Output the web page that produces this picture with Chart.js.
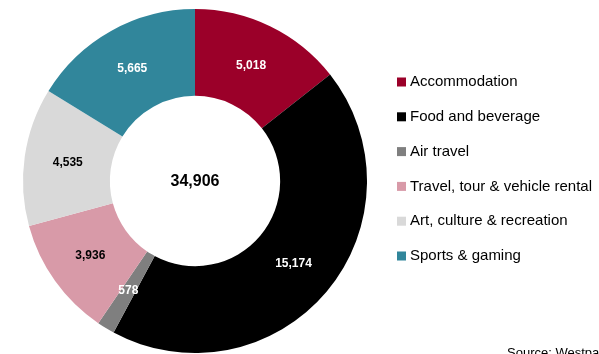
<!DOCTYPE html>
<html>
<head>
<meta charset="utf-8">
<script src="https://cdn.jsdelivr.net/npm/chart.js@4"></script>
<style>
  html, body { margin: 0; padding: 0; background: #fff; }
  #wrap { width: 599px; height: 354px; position: relative; }
</style>
</head>
<body>
<div id="wrap"><canvas id="spendChart"></canvas></div>
<script>
const categories = ['Accommodation', 'Food and beverage', 'Air travel', 'Travel, tour & vehicle rental', 'Art, culture & recreation', 'Sports & gaming'];
const spend = [5018, 15174, 578, 3936, 4535, 5665];
const sliceColors = ['#9b0029', '#000000', '#7f7f7f', '#d89aa8', '#d9d9d9', '#31869b'];
const labelColors = ['#ffffff', '#ffffff', '#ffffff', '#000000', '#000000', '#ffffff'];
const sourceNote = 'Source: Westpac';

const fmt = v => v.toLocaleString('en-US');
const FONT = 'Arial, "Liberation Sans", sans-serif';

// values on each slice + total in the hole
const sliceLabels = {
    id: 'sliceLabels',
    afterDatasetsDraw(chart) {
        const c = chart.ctx;
        const meta = chart.getDatasetMeta(0);
        c.save();
        c.textAlign = 'center';
        c.textBaseline = 'middle';
        c.font = 'bold 12px ' + FONT;
        meta.data.forEach((arc, i) => {
            const mid = (arc.startAngle + arc.endAngle) / 2;
            const r = (arc.innerRadius + arc.outerRadius) / 2;
            c.fillStyle = labelColors[i];
            c.fillText(fmt(spend[i]), arc.x + Math.cos(mid) * r, arc.y + Math.sin(mid) * r);
        });
        const total = spend.reduce((a, b) => a + b, 0);
        c.fillStyle = '#000';
        c.font = 'bold 16px ' + FONT;
        c.fillText(fmt(total), meta.data[0].x, meta.data[0].y + 1);
        c.restore();
    }
};

// legend on the right and source line
const sideLegend = {
    id: 'sideLegend',
    afterDraw(chart) {
        const c = chart.ctx;
        c.save();
        c.textBaseline = 'middle';
        c.textAlign = 'left';
        c.font = '15px ' + FONT;
        categories.forEach((name, i) => {
            const y = 82 + i * 34.8;
            c.fillStyle = sliceColors[i];
            c.fillRect(397, y - 4.5, 9, 9);
            c.fillStyle = '#000';
            c.fillText(name, 410, y);
        });
        c.font = '13px ' + FONT;
        c.textBaseline = 'alphabetic';
        c.fillStyle = '#000';
        c.fillText(sourceNote, 507, 357);
        c.restore();
    }
};

const ctx = document.getElementById('spendChart').getContext('2d');
const spendChart = new Chart(ctx, {
    type: 'doughnut',
    data: {
        labels: categories,
        datasets: [{
            data: spend,
            backgroundColor: sliceColors,
            borderWidth: 0
        }]
    },
    options: {
        responsive: true,
        maintainAspectRatio: false,
        animation: false,
        cutout: '49.5%',
        layout: { padding: { left: 23, right: 232, top: 9, bottom: 1 } },
        plugins: {
            legend: { display: false },
            tooltip: { enabled: false }
        }
    },
    plugins: [sliceLabels, sideLegend]
});
</script>
</body>
</html>
